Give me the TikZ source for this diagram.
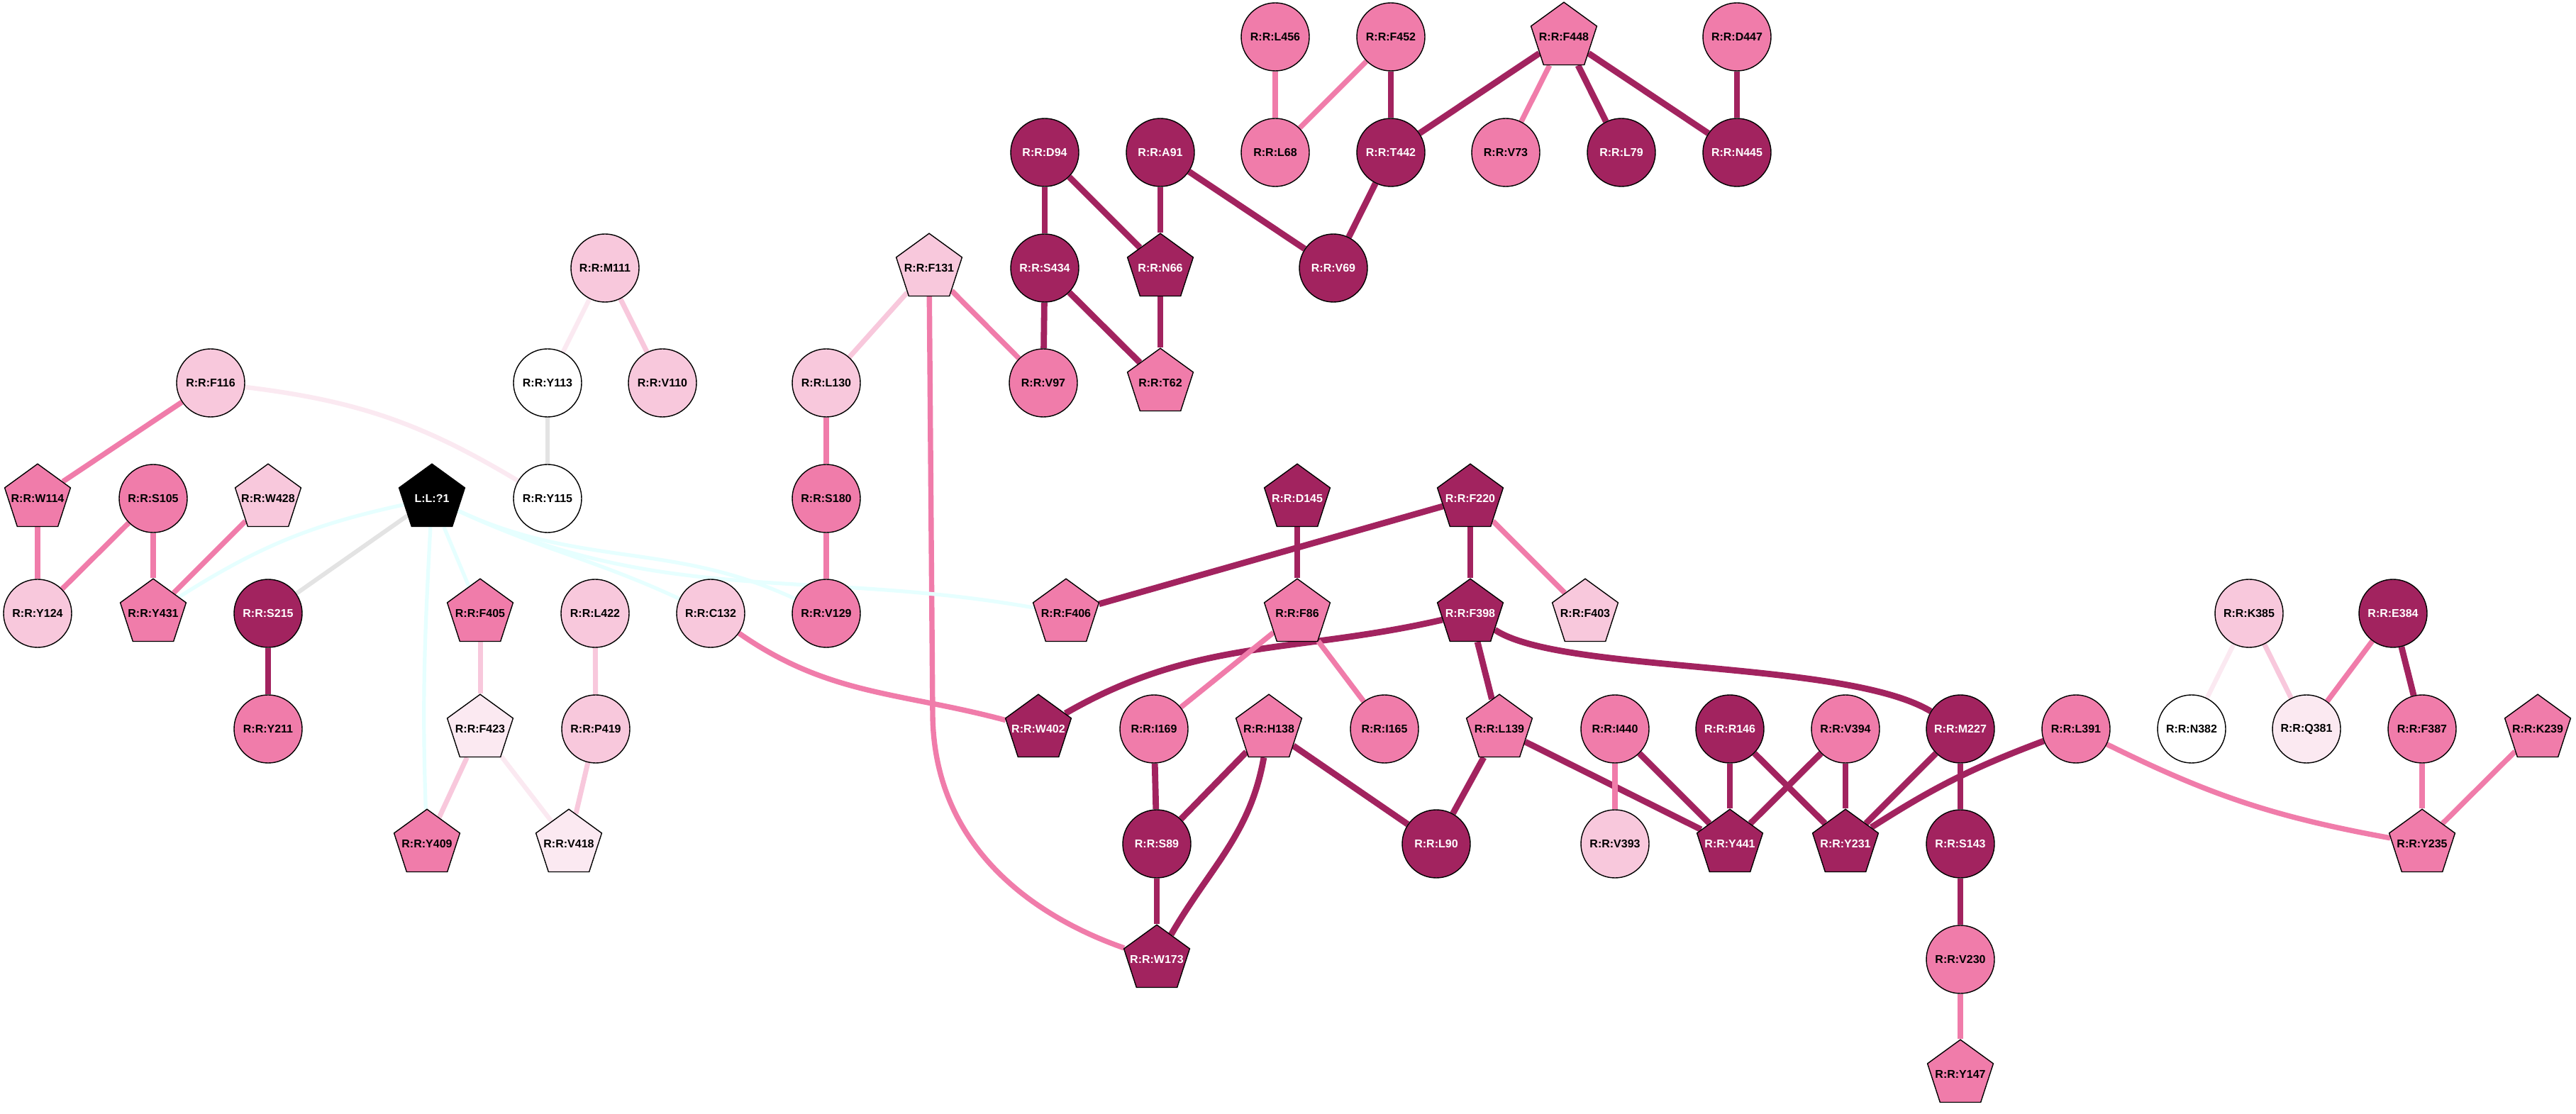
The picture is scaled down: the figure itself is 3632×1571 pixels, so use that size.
\documentclass[tikz,border=0pt]{standalone}
\usepackage{fontspec}
\setmainfont{Liberation Sans}
\usetikzlibrary{shapes.geometric}
\pgfdeclarelayer{bg}
\pgfsetlayers{bg,main}
\definecolor{dkc}{HTML}{A2235F}
\definecolor{mdc}{HTML}{F07CAA}
\definecolor{ltc}{HTML}{F8C8DC}
\definecolor{vlc}{HTML}{FBE9F1}
\definecolor{cyc}{HTML}{E6FFFF}
\definecolor{gyc}{HTML}{E3E3E3}
\newcommand{\pgtxt}[1]{\makebox[0pt]{#1}}
\begin{document}
\begin{tikzpicture}[x=0.25pt,y=-0.25pt,
 nd/.style={draw=black,line width=0.35pt,inner sep=0pt,font=\fontsize{4pt}{4pt}\selectfont\bfseries},
 ci/.style={nd,circle,minimum size=24pt},
 pg/.style={nd,regular polygon,regular polygon sides=5,minimum size=24.4pt},
 fdk/.style={fill=dkc,text=white},
 fmd/.style={fill=mdc},
 flt/.style={fill=ltc},
 fvl/.style={fill=vlc},
 fwh/.style={fill=white},
 fbk/.style={fill=black,text=white},
 dk/.style={draw=dkc,line width=2.2pt},
 md/.style={draw=mdc,line width=1.85pt},
 lt/.style={draw=ltc,line width=1.75pt},
 vl/.style={draw=vlc,line width=1.6pt},
 cy/.style={draw=cyc,line width=1.3pt},
 gy/.style={draw=gyc,line width=1.5pt}]
\useasboundingbox (0,0) rectangle (3632,1571);
% row 0
\node[ci,fmd] (L456) at (1798,52) {R:R:L456};
\node[ci,fmd] (F452) at (1961,52) {R:R:F452};
\node[pg,fmd] (F448) at (2205,52) {\pgtxt{R:R:F448}};
\node[ci,fmd] (D447) at (2449,52) {R:R:D447};
% row 1
\node[ci,fdk] (D94) at (1473,215) {R:R:D94};
\node[ci,fdk] (A91) at (1636,215) {R:R:A91};
\node[ci,fmd] (L68) at (1798,215) {R:R:L68};
\node[ci,fdk] (T442) at (1961,215) {R:R:T442};
\node[ci,fmd] (V73) at (2123,215) {R:R:V73};
\node[ci,fdk] (L79) at (2286,215) {R:R:L79};
\node[ci,fdk] (N445) at (2449,215) {R:R:N445};
% row 2
\node[ci,flt] (M111) at (853,378) {R:R:M111};
\node[pg,flt] (F131) at (1310,378) {\pgtxt{R:R:F131}};
\node[ci,fdk] (S434) at (1473,378) {R:R:S434};
\node[pg,fdk] (N66) at (1636,378) {\pgtxt{R:R:N66}};
\node[ci,fdk] (V69) at (1880,378) {R:R:V69};
% row 3
\node[ci,flt] (F116) at (297,540) {R:R:F116};
\node[ci,fwh] (Y113) at (772,540) {R:R:Y113};
\node[ci,flt] (V110) at (934,540) {R:R:V110};
\node[ci,flt] (L130) at (1165,540) {R:R:L130};
\node[ci,fmd] (V97) at (1471,540) {R:R:V97};
\node[pg,fmd] (T62) at (1636,540) {\pgtxt{R:R:T62}};
% row 4
\node[pg,fmd] (W114) at (53,703) {\pgtxt{R:R:W114}};
\node[ci,fmd] (S105) at (216,703) {R:R:S105};
\node[pg,flt] (W428) at (378,703) {\pgtxt{R:R:W428}};
\node[pg,fbk] (L1) at (609,703) {\pgtxt{L:L:?1}};
\node[ci,fwh] (Y115) at (772,703) {R:R:Y115};
\node[ci,fmd] (S180) at (1165,703) {R:R:S180};
\node[pg,fdk] (D145) at (1829,703) {\pgtxt{R:R:D145}};
\node[pg,fdk] (F220) at (2073,703) {\pgtxt{R:R:F220}};
% row 5
\node[ci,flt] (Y124) at (53,865) {R:R:Y124};
\node[pg,fmd] (Y431) at (216,865) {\pgtxt{R:R:Y431}};
\node[ci,fdk] (S215) at (378,865) {R:R:S215};
\node[pg,fmd] (F405) at (677,865) {\pgtxt{R:R:F405}};
\node[ci,flt] (L422) at (839,865) {R:R:L422};
\node[ci,flt] (C132) at (1002,865) {R:R:C132};
\node[ci,fmd] (V129) at (1165,865) {R:R:V129};
\node[pg,fmd] (F406) at (1503,865) {\pgtxt{R:R:F406}};
\node[pg,fmd] (F86) at (1829,865) {\pgtxt{R:R:F86}};
\node[pg,fdk] (F398) at (2073,865) {\pgtxt{R:R:F398}};
\node[pg,flt] (F403) at (2235,865) {\pgtxt{R:R:F403}};
\node[ci,flt] (K385) at (3171,865) {R:R:K385};
\node[ci,fdk] (E384) at (3374,865) {R:R:E384};
% row 6
\node[ci,fmd] (Y211) at (378,1028) {R:R:Y211};
\node[pg,fvl] (F423) at (677,1028) {\pgtxt{R:R:F423}};
\node[ci,flt] (P419) at (840,1028) {R:R:P419};
\node[pg,fdk] (W402) at (1464,1028) {\pgtxt{R:R:W402}};
\node[ci,fmd] (I169) at (1627,1028) {R:R:I169};
\node[pg,fmd] (H138) at (1789,1028) {\pgtxt{R:R:H138}};
\node[ci,fmd] (I165) at (1952,1028) {R:R:I165};
\node[pg,fmd] (L139) at (2114,1028) {\pgtxt{R:R:L139}};
\node[ci,fmd] (I440) at (2277,1028) {R:R:I440};
\node[ci,fdk] (R146) at (2439,1028) {R:R:R146};
\node[ci,fmd] (V394) at (2602,1028) {R:R:V394};
\node[ci,fdk] (M227) at (2764,1028) {R:R:M227};
\node[ci,fmd] (L391) at (2927,1028) {R:R:L391};
\node[ci,fwh] (N382) at (3090,1028) {R:R:N382};
\node[ci,fvl] (Q381) at (3252,1028) {R:R:Q381};
\node[ci,fmd] (F387) at (3415,1028) {R:R:F387};
\node[pg,fmd] (K239) at (3578,1028) {\pgtxt{R:R:K239}};
% row 7
\node[pg,fmd] (Y409) at (602,1190) {\pgtxt{R:R:Y409}};
\node[pg,fvl] (V418) at (802,1190) {\pgtxt{R:R:V418}};
\node[ci,fdk] (S89) at (1631,1190) {R:R:S89};
\node[ci,fdk] (L90) at (2025,1190) {R:R:L90};
\node[ci,flt] (V393) at (2277,1190) {R:R:V393};
\node[pg,fdk] (Y441) at (2439,1190) {\pgtxt{R:R:Y441}};
\node[pg,fdk] (Y231) at (2602,1190) {\pgtxt{R:R:Y231}};
\node[ci,fdk] (S143) at (2764,1190) {R:R:S143};
\node[pg,fmd] (Y235) at (3415,1190) {\pgtxt{R:R:Y235}};
% row 8, 9
\node[pg,fdk] (W173) at (1631,1353) {\pgtxt{R:R:W173}};
\node[ci,fmd] (V230) at (2764,1353) {R:R:V230};
\node[pg,fmd] (Y147) at (2764,1515) {\pgtxt{R:R:Y147}};
\coordinate (bend131) at (1315,1010);

\begin{pgfonlayer}{bg}
\fill[white] (0,0) rectangle (3632,1571);
% top cluster
\draw[md] (L456) -- (L68);
\draw[md] (F452) -- (L68);
\draw[dk] (F452) -- (T442);
\draw[dk] (F448) -- (T442);
\draw[md] (F448) -- (V73);
\draw[dk] (F448) -- (L79);
\draw[dk] (F448) -- (N445);
\draw[dk] (D447) -- (N445);
\draw[dk] (T442) -- (V69);
\draw[dk] (A91) -- (V69);
\draw[dk] (A91) -- (N66);
\draw[dk] (D94) -- (N66);
\draw[dk] (D94) -- (S434);
\draw[dk] (S434) -- (V97);
\draw[dk] (S434) -- (T62);
\draw[dk] (N66) -- (T62);
\draw[md] (F131) -- (V97);
\draw[lt] (F131) -- (L130);
\draw[md] (F131) -- (bend131) .. controls (1318,1200) and (1465,1295) .. (W173);
\draw[md] (L130) -- (S180);
\draw[md] (S180) -- (V129);
% left cluster
\draw[vl] (M111) -- (Y113);
\draw[lt] (M111) -- (V110);
\draw[gy] (Y113) -- (Y115);
\draw[vl] (F116) to[bend left=12] (Y115);
\draw[md] (F116) -- (W114);
\draw[md] (W114) -- (Y124);
\draw[md] (S105) -- (Y124);
\draw[md] (S105) -- (Y431);
\draw[md] (W428) -- (Y431);
\draw[cy] (L1) to[bend right=10] (Y431);
\draw[gy] (L1) -- (S215);
\draw[dk] (S215) -- (Y211);
\draw[cy] (L1) to[out=-93,in=92] (Y409);
\draw[cy] (L1) -- (F405);
\draw[cy] (L1) to[out=-25,in=155] (C132);
\draw[cy] (L1) to[out=-25,in=155] (V129);
\draw[cy] (L1) to[out=-25,in=170] (F406);
\draw[lt] (F405) -- (F423);
\draw[lt] (F423) -- (Y409);
\draw[vl] (F423) -- (V418);
\draw[lt] (L422) -- (P419);
\draw[lt] (P419) -- (V418);
% middle cluster
\draw[md] (C132) to[out=-35,in=165] (W402);
\draw[dk] (D145) -- (F86);
\draw[dk] (F220) -- (F406);
\draw[dk] (F220) -- (F398);
\draw[md] (F220) -- (F403);
\draw[dk] (F398) to[out=193,in=30] (W402);
\draw[dk] (F398) -- (L139);
\draw[dk] (F398) .. controls (2200,950) and (2600,930) .. (M227);
\draw[md] (F86) -- (I169);
\draw[md] (F86) -- (I165);
\draw[dk] (I169) -- (S89);
\draw[dk] (H138) -- (S89);
\draw[dk] (H138) to[out=-100,in=60] (W173);
\draw[dk] (H138) -- (L90);
\draw[dk] (S89) -- (W173);
\draw[dk] (L139) -- (L90);
\draw[dk] (L139) -- (Y441);
\draw[md] (I440) -- (V393);
\draw[dk] (I440) -- (Y441);
\draw[dk] (R146) -- (Y441);
\draw[dk] (R146) -- (Y231);
\draw[dk] (V394) -- (Y441);
\draw[dk] (V394) -- (Y231);
\draw[dk] (M227) -- (Y231);
\draw[dk] (M227) -- (S143);
\draw[dk] (L391) to[bend right=6] (Y231);
\draw[md] (L391) to[bend right=8] (Y235);
\draw[dk] (S143) -- (V230);
\draw[md] (V230) -- (Y147);
% right cluster
\draw[vl] (K385) -- (N382);
\draw[lt] (K385) -- (Q381);
\draw[md] (E384) -- (Q381);
\draw[dk] (E384) -- (F387);
\draw[md] (F387) -- (Y235);
\draw[md] (K239) -- (Y235);
\end{pgfonlayer}
\end{tikzpicture}
\end{document}
